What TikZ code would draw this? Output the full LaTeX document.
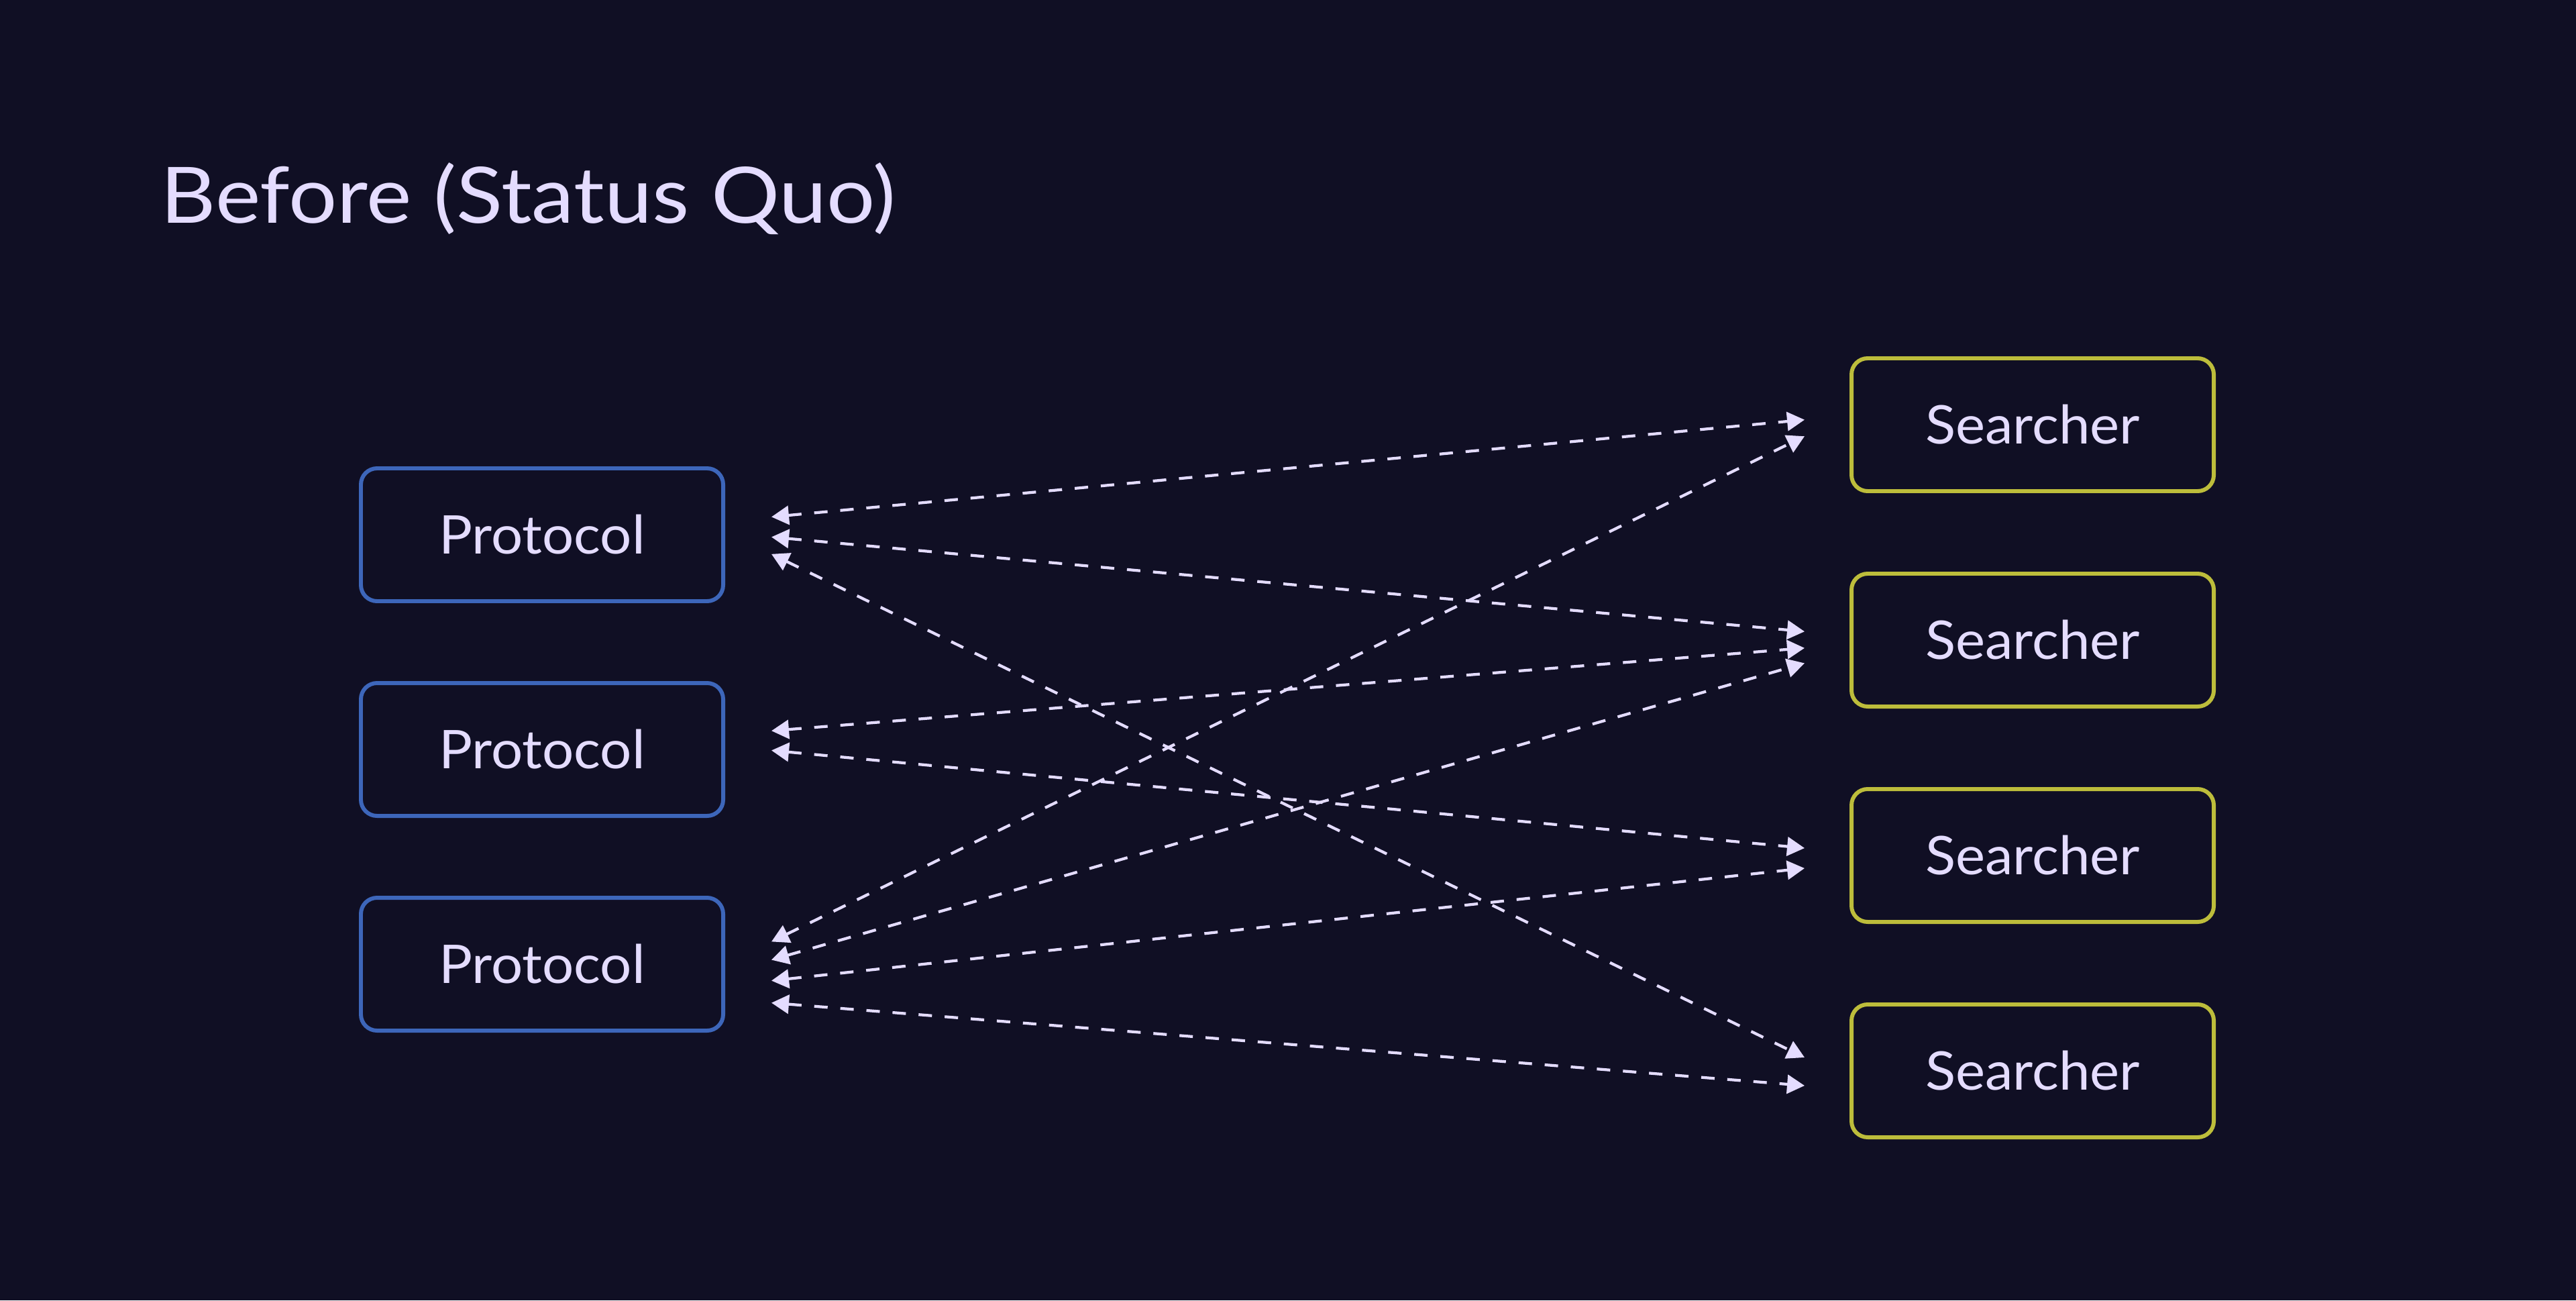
\documentclass[tikz,border=0pt]{standalone}
\usepackage{fontspec}
\setmainfont{Lato}[FakeStretch=1.05]
\newfontfamily\titlefont{Lato}[FakeStretch=1.1]
\usetikzlibrary{arrows.meta}

\definecolor{bgnavy}{RGB}{16,15,36}
\definecolor{lavender}{RGB}{228,220,255}
\definecolor{protoblue}{RGB}{61,102,186}
\definecolor{searchyellow}{RGB}{189,189,59}

\tikzset{
    box/.style={rectangle, draw, rounded corners=1.2mm, line width=0.85pt, minimum width=2.7cm, minimum height=0.99cm, inner sep=0pt, text=lavender, font=\fontsize{11.3}{13}\selectfont},
    protocol/.style={box, draw=protoblue},
    searcher/.style={box, draw=searchyellow},
    link/.style={draw=lavender, line width=0.6pt, dash pattern=on 2.85pt off 2.7pt, {Triangle[length=1.3mm, width=1.4mm]}-{Triangle[length=1.3mm, width=1.4mm]}}
}

\begin{document}
\begin{tikzpicture}

    \useasboundingbox (0, 0) rectangle (19.2, 9.69);
    \fill[bgnavy] (0, 0) rectangle (19.2, 9.69);

    \node[anchor=base west, inner sep=0pt, text=lavender, font=\titlefont\fontsize{16.5}{20}\selectfont] (title) at (1.19, 8.03) {Before (Status Quo)};

    \node[protocol] (p1) at (4.04, 5.705) {Protocol};
    \node[protocol] (p2) at (4.04, 4.105) {Protocol};
    \node[protocol] (p3) at (4.04, 2.505) {Protocol};
    \node[searcher] (s1) at (15.15, 6.525) {Searcher};
    \node[searcher] (s2) at (15.15, 4.92) {Searcher};
    \node[searcher] (s3) at (15.15, 3.315) {Searcher};
    \node[searcher] (s4) at (15.15, 1.71) {Searcher};
    % Links from protocol 1
    \draw[link] ([xshift=3.45mm, yshift=1.33mm]p1.east) -- ([xshift=-3.35mm, yshift=0.37mm]s1.west); % 1 to 1
    \draw[link] ([xshift=3.45mm, yshift=-0.17mm]p1.east) -- ([xshift=-3.35mm, yshift=0.64mm]s2.west); % 1 to 2
    \draw[link] ([xshift=3.45mm, yshift=-1.44mm]p1.east) -- ([xshift=-3.35mm, yshift=1.0mm]s4.west); % 1 to 4
    % Links from protocol 2
    \draw[link] ([xshift=3.45mm, yshift=1.39mm]p2.east) -- ([xshift=-3.35mm, yshift=-0.59mm]s2.west); % 2 to 2
    \draw[link] ([xshift=3.45mm, yshift=-0.07mm]p2.east) -- ([xshift=-3.35mm, yshift=0.55mm]s3.west); % 2 to 3
    % Links from protocol 3
    \draw[link] ([xshift=3.45mm, yshift=1.68mm]p3.east) -- ([xshift=-3.35mm, yshift=-0.86mm]s1.west); % 3 to 1
    \draw[link] ([xshift=3.45mm, yshift=0.32mm]p3.east) -- ([xshift=-3.35mm, yshift=-1.72mm]s2.west); % 3 to 2
    \draw[link] ([xshift=3.45mm, yshift=-1.23mm]p3.east) -- ([xshift=-3.35mm, yshift=-0.95mm]s3.west); % 3 to 3
    \draw[link] ([xshift=3.45mm, yshift=-2.88mm]p3.east) -- ([xshift=-3.35mm, yshift=-1.1mm]s4.west); % 3 to 4
\end{tikzpicture}
\end{document}
